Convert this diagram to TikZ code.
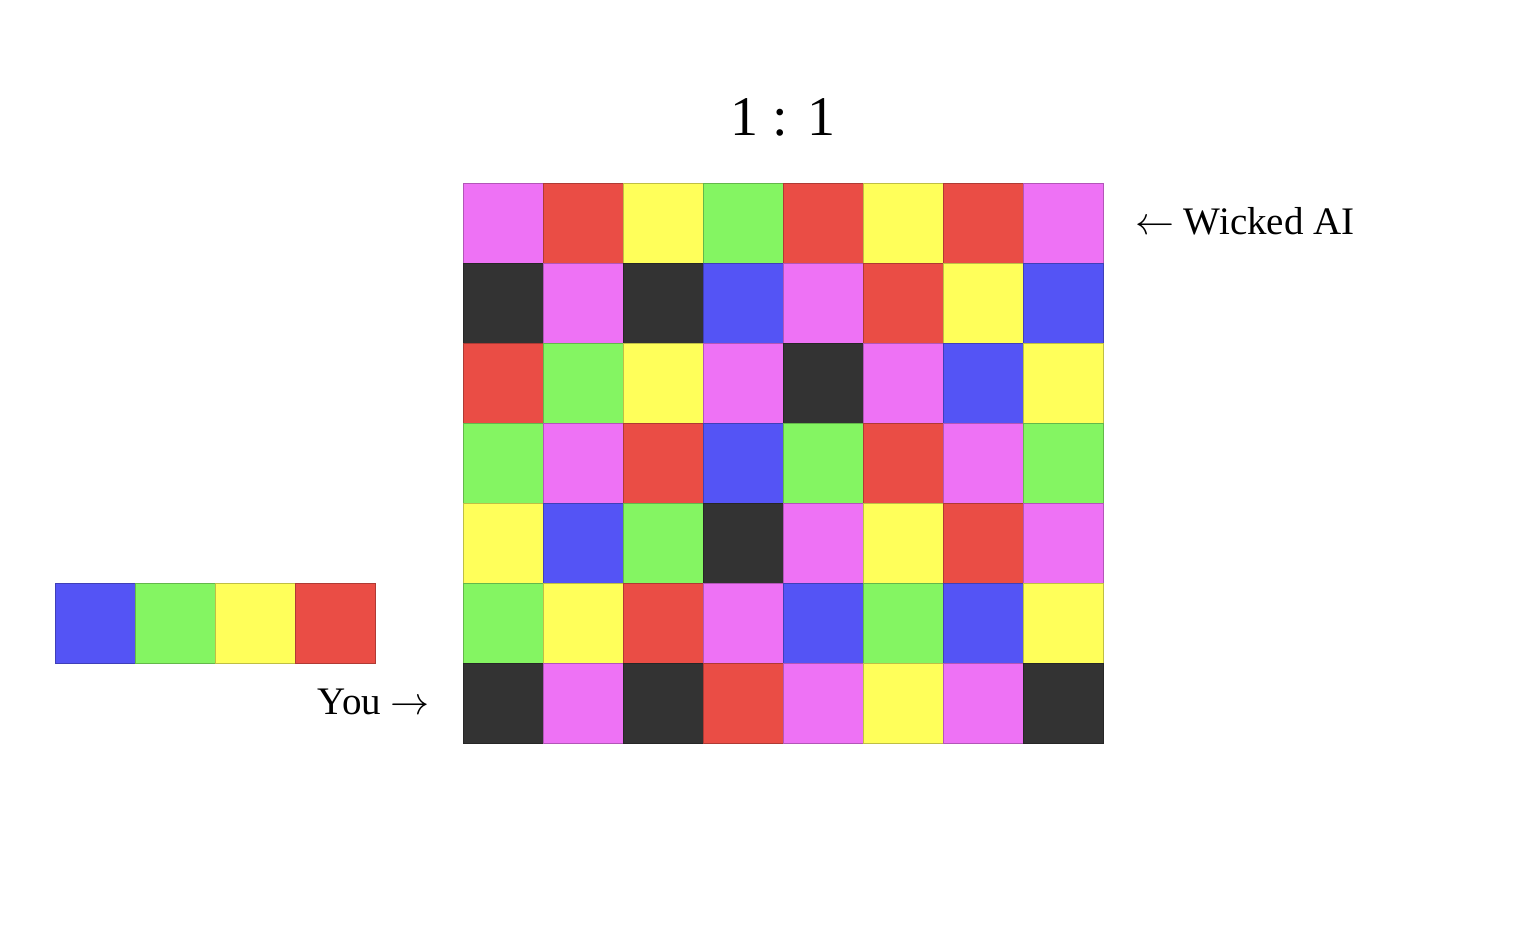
\documentclass[tikz,border=0pt]{standalone}
\usepackage{fix-cm}
\usepackage{fontspec}
\setmainfont{Liberation Serif}
\definecolor{cM}{HTML}{EE72F5}
\definecolor{cR}{HTML}{EA4D45}
\definecolor{cY}{HTML}{FFFF5A}
\definecolor{cG}{HTML}{84F562}
\definecolor{cB}{HTML}{5454F5}
\definecolor{cK}{HTML}{333333}
\tikzset{
  cell/.style={rectangle, minimum width=80pt, minimum height=80pt, inner sep=0pt, outer sep=0pt,
    anchor=north west, fill=#1, draw=#1!75!black, line width=0.6pt},
  lbl/.style={inner sep=0pt, font=\fontsize{39}{41}\selectfont},
}
\begin{document}
\begin{tikzpicture}[x=1pt,y=-1pt]
\useasboundingbox (0,0) rectangle (1532,930);
% title
\node[inner sep=0pt, anchor=base, font=\fontsize{56}{60}\selectfont] (title) at (783,135) {1 : 1};
% grid
\foreach \row/\cols in {0/{cM,cR,cY,cG,cR,cY,cR,cM},
                        1/{cK,cM,cK,cB,cM,cR,cY,cB},
                        2/{cR,cG,cY,cM,cK,cM,cB,cY},
                        3/{cG,cM,cR,cB,cG,cR,cM,cG},
                        4/{cY,cB,cG,cK,cM,cY,cR,cM},
                        5/{cG,cY,cR,cM,cB,cG,cB,cY},
                        6/{cK,cM,cK,cR,cM,cY,cM,cK}} {
  \foreach \c [count=\i from 0] in \cols {
    \node[cell=\c] (g-\row-\i) at ({463+80*\i},{183+80*\row}) {};
  }
}
% strip
\foreach \c [count=\i from 0] in {cB,cG,cY,cR} {
  \node[cell=\c] (s-\i) at ({55+80*\i},583) {};
}
% labels
\node[lbl, anchor=base west] (ai) at (1135,234) {$\leftarrow$ Wicked AI};
\node[lbl, anchor=base east] (you) at (430,714) {You $\rightarrow$};
\end{tikzpicture}
\end{document}
